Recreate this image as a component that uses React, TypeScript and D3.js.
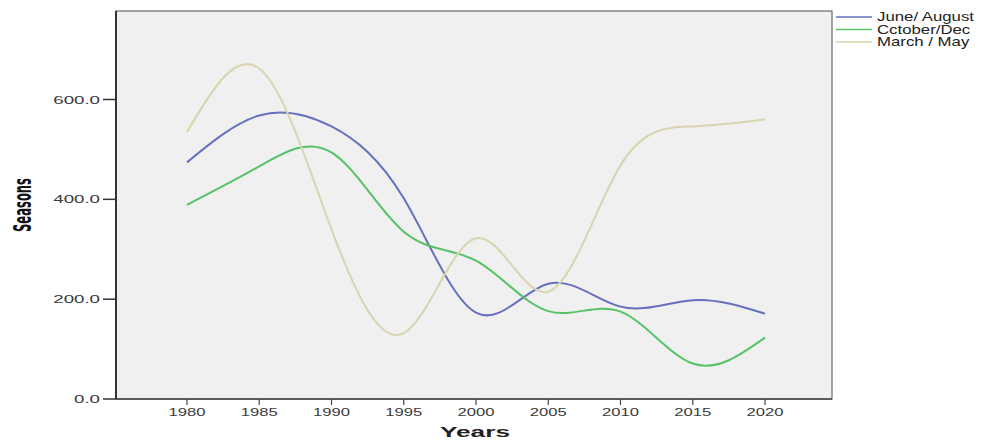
import React from "react";
import * as d3 from "d3";

const years = [1980, 1985, 1990, 1995, 2000, 2005, 2010, 2015, 2020];
const juneAugust = [474, 568, 546, 402, 173, 231, 185, 198, 171];
const octoberDec = [389, 466, 494, 335, 277, 176, 175, 71, 123];
const marchMay = [535, 662, 340, 132, 322, 215, 468, 546, 560];
const yTicks = [0, 200, 400, 600];
const seriesNames = ["June/ August", "Cctober/Dec", "March / May"];
const seriesColors = ["#6571bd", "#55c266", "#d8d4ae"];

const W = 991;
const H = 441;
const plot = { left: 116, right: 832, top: 11, bottom: 399 };

export default function App() {
  const x = d3.scaleLinear().domain([1980, 2020]).range([187, 765]);
  const y = d3.scaleLinear().domain([0, 600]).range([plot.bottom, 99.5]);
  const line = d3
    .line<[number, number]>()
    .x((d) => x(d[0]))
    .y((d) => y(d[1]))
    .curve(d3.curveNatural);
  const series = [juneAugust, octoberDec, marchMay];
  const tickFont = "'Liberation Sans', Arial, sans-serif";

  return (
    <svg
      width={W}
      height={H}
      style={{ position: "absolute", left: 0, top: 0, background: "#fff" }}
    >
      <rect
        x={plot.left}
        y={plot.top}
        width={plot.right - plot.left}
        height={plot.bottom - plot.top}
        fill="#f0f0f0"
        stroke="#6a6a6a"
        strokeWidth={1.2}
      />
      <line x1={plot.left} x2={plot.left} y1={plot.top} y2={plot.bottom} stroke="#333" strokeWidth={2} />
      <line x1={plot.left} x2={plot.right} y1={plot.bottom} y2={plot.bottom} stroke="#444" strokeWidth={1.5} />
      {yTicks.map((t) => (
        <g key={t}>
          <line x1={103} x2={plot.left} y1={y(t)} y2={y(t)} stroke="#333" strokeWidth={1.5} />
          <text
            transform={`translate(100,${y(t) + 4}) scale(1.7,1)`}
            textAnchor="end"
            fontFamily={tickFont}
            fontSize={11}
            fill="#3a3a3a"
          >
            {d3.format(".1f")(t)}
          </text>
        </g>
      ))}
      {years.map((yr) => (
        <g key={yr}>
          <line x1={x(yr)} x2={x(yr)} y1={plot.bottom} y2={plot.bottom + 6} stroke="#444" strokeWidth={1.2} />
          <text
            x={x(yr)}
            y={plot.bottom + 17}
            textAnchor="middle"
            fontFamily={tickFont}
            fontSize={11}
            fill="#3a3a3a"
            textLength={37}
            lengthAdjust="spacingAndGlyphs"
          >
            {yr}
          </text>
        </g>
      ))}
      {series.map((vals, i) => (
        <path
          key={i}
          d={line(years.map((yr, j) => [yr, vals[j]] as [number, number])) || ""}
          fill="none"
          stroke={seriesColors[i]}
          strokeWidth={2}
        />
      ))}
      <text
        x={475}
        y={437}
        textAnchor="middle"
        fontFamily={tickFont}
        fontWeight="bold"
        fontSize={15}
        fill="#222"
        textLength={70}
        lengthAdjust="spacingAndGlyphs"
      >
        Years
      </text>
      <text
        transform="translate(31,205) rotate(-90)"
        textAnchor="middle"
        fontFamily="'Liberation Sans Narrow', 'DejaVu Sans Condensed', sans-serif"
        fontWeight="bold"
        fontSize={24}
        fill="#111"
        textLength={54}
        lengthAdjust="spacingAndGlyphs"
      >
        Seasons
      </text>
      {seriesNames.map((name, i) => (
        <g key={name}>
          <line
            x1={836}
            x2={872}
            y1={17 + i * 12.5}
            y2={17 + i * 12.5}
            stroke={seriesColors[i]}
            strokeWidth={1.6}
          />
          <text
            transform={`translate(877,${21 + i * 12.5}) scale(1.4,1)`}
            fontFamily={tickFont}
            fontSize={12}
            fill="#222"
          >
            {name}
          </text>
        </g>
      ))}
    </svg>
  );
}
